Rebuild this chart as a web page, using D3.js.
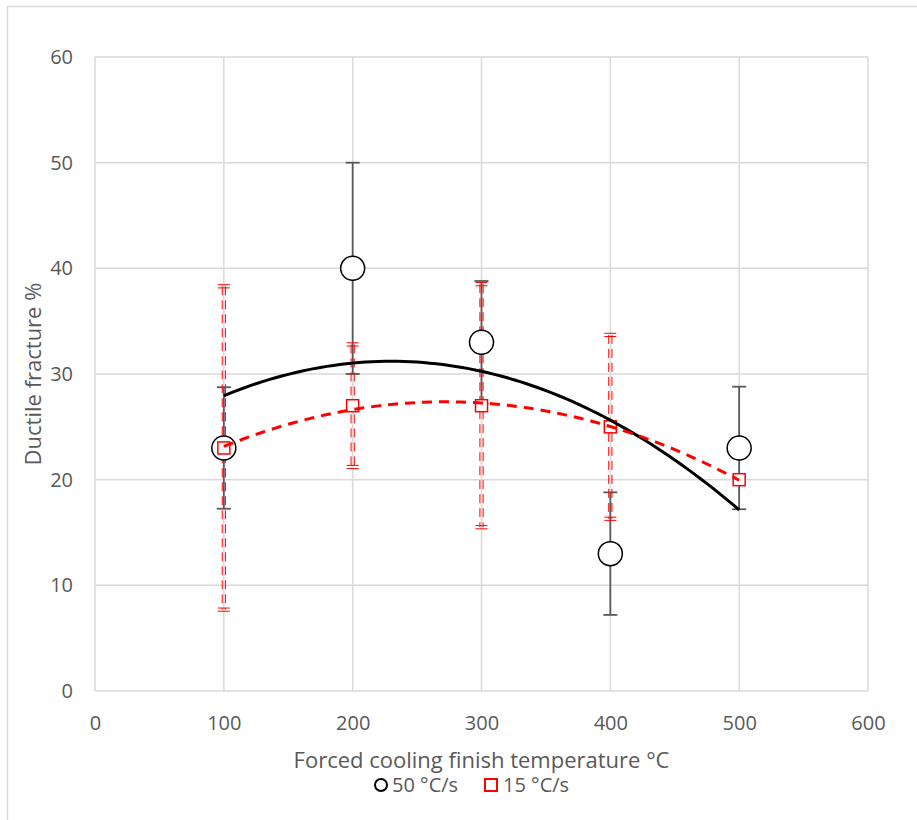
<!DOCTYPE html>
<html>
<head>
<meta charset="utf-8">
<script src="https://cdn.jsdelivr.net/npm/d3@7"></script>
<style>
  body { margin: 0; background: #fff; }
  svg { display: block; font-family: "Open Sans", sans-serif; }
</style>
</head>
<body>
<div id="chart"></div>
<script>
// data
const temps = [100, 200, 300, 400, 500];
const fast = [23, 40, 33, 13, 23];          // 50 °C/s
const fastErr = [5.75, 10, 5.8, 5.8, 5.8];
const slow = [23, 27, 27, 25, 20];          // 15 °C/s
const slowErr = [15.3, 5.8, 11.5, 8.7, 0];
const xTicks = [0, 100, 200, 300, 400, 500, 600];
const yTicks = [0, 10, 20, 30, 40, 50, 60];

const width = 917, height = 820;
const margin = {top: 57, bottom: 129, left: 95, right: 49};
const innerWidth = width - margin.left - margin.right;
const innerHeight = height - margin.top - margin.bottom;

const svg = d3.select("#chart").append("svg")
    .attr("width", width).attr("height", height);

// outer chart border (left + top)
svg.append("path")
    .attr("d", `M7.5,${height} V6.5 H${width}`)
    .attr("fill", "none").attr("stroke", "#d9d9d9").attr("stroke-width", 1.5);

const g = svg.append("g").attr("transform", `translate(${margin.left},${margin.top})`);

const xScale = d3.scaleLinear().domain([0, 600]).range([0, innerWidth]);
const yScale = d3.scaleLinear().domain([0, 60]).range([innerHeight, 0]);

// gridlines
g.append("g").selectAll("line").data(yTicks).join("line")
    .attr("x1", 0).attr("x2", innerWidth)
    .attr("y1", d => yScale(d)).attr("y2", d => yScale(d))
    .attr("stroke", "#d9d9d9").attr("stroke-width", 1.5);
g.append("g").selectAll("line").data(xTicks).join("line")
    .attr("x1", d => xScale(d)).attr("x2", d => xScale(d))
    .attr("y1", 0).attr("y2", innerHeight)
    .attr("stroke", "#d9d9d9").attr("stroke-width", 1.5);

// axes (labels only)
const xAxis = g.append("g")
    .attr("transform", `translate(0,${innerHeight})`)
    .call(d3.axisBottom(xScale).tickValues(xTicks).tickSize(0).tickPadding(25));
const yAxis = g.append("g")
    .call(d3.axisLeft(yScale).tickValues(yTicks).tickSize(0).tickPadding(22));
[xAxis, yAxis].forEach(a => {
    a.select(".domain").remove();
    a.attr("font-size", 20).attr("font-family", "Open Sans, sans-serif");
    a.selectAll("text").attr("fill", "#595959");
});

// error bars - 50 °C/s (solid grey)
const capW = 7;
temps.forEach((t, i) => {
    const x = xScale(t), y1 = yScale(fast[i] - fastErr[i]), y2 = yScale(fast[i] + fastErr[i]);
    g.append("line").attr("x1", x).attr("x2", x).attr("y1", y1).attr("y2", y2)
        .attr("stroke", "#595959").attr("stroke-width", 1.8);
    [y1, y2].forEach(yy => g.append("line")
        .attr("x1", x - capW).attr("x2", x + capW).attr("y1", yy).attr("y2", yy)
        .attr("stroke", "#595959").attr("stroke-width", 1.8));
});

// error bars - 15 °C/s (double dashed red)
temps.forEach((t, i) => {
    if (slowErr[i] === 0) return;
    const x = xScale(t), y1 = yScale(slow[i] - slowErr[i]), y2 = yScale(slow[i] + slowErr[i]);
    [-1.6, 1.6].forEach(off => {
        g.append("line").attr("x1", x + off).attr("x2", x + off).attr("y1", y2).attr("y2", y1)
            .attr("stroke", "#ff0000").attr("stroke-width", 1)
            .attr("stroke-dasharray", "9,5");
    });
    [y1, y2].forEach(yy => [-1.6, 1.6].forEach(off => g.append("line")
        .attr("x1", x - 6).attr("x2", x + 6).attr("y1", yy + off).attr("y2", yy + off)
        .attr("stroke", "#ff0000").attr("stroke-width", 1)));
});

// markers
g.append("g").selectAll("circle").data(temps).join("circle")
    .attr("cx", d => xScale(d)).attr("cy", (d, i) => yScale(fast[i]))
    .attr("r", 12).attr("fill", "#fff").attr("stroke", "#000").attr("stroke-width", 1.5);
g.append("g").selectAll("rect").data(temps).join("rect")
    .attr("x", d => xScale(d) - 6).attr("y", (d, i) => yScale(slow[i]) - 6)
    .attr("width", 12).attr("height", 12)
    .attr("fill", "#fff").attr("stroke", "#ff0000").attr("stroke-width", 1.5);

// polynomial (order 2) trendlines, least squares on the series
function polyFit(xs, ys) {
    let s = [0, 0, 0, 0, 0], t = [0, 0, 0];
    xs.forEach((x, i) => {
        for (let k = 0; k < 5; k++) s[k] += Math.pow(x, k);
        for (let k = 0; k < 3; k++) t[k] += ys[i] * Math.pow(x, k);
    });
    const A = [[s[0], s[1], s[2]], [s[1], s[2], s[3]], [s[2], s[3], s[4]]];
    const b = t.slice();
    for (let c = 0; c < 3; c++) {
        for (let r = c + 1; r < 3; r++) {
            const f = A[r][c] / A[c][c];
            for (let k = c; k < 3; k++) A[r][k] -= f * A[c][k];
            b[r] -= f * b[c];
        }
    }
    const coef = [0, 0, 0];
    for (let r = 2; r >= 0; r--) {
        let v = b[r];
        for (let k = r + 1; k < 3; k++) v -= A[r][k] * coef[k];
        coef[r] = v / A[r][r];
    }
    return x => coef[0] + coef[1] * x + coef[2] * x * x;
}
const fitFast = polyFit(temps, fast);
const fitSlow = polyFit(temps, slow);
const xs = d3.range(100, 501, 5);
const line = f => d3.line().x(d => xScale(d)).y(d => yScale(f(d)));

g.append("path").attr("d", line(fitFast)(xs))
    .attr("fill", "none").attr("stroke", "#000").attr("stroke-width", 3);
g.append("path").attr("d", line(fitSlow)(xs))
    .attr("fill", "none").attr("stroke", "#ff0000").attr("stroke-width", 3)
    .attr("stroke-dasharray", "10,7");

// axis titles
svg.append("text")
    .attr("x", margin.left + xScale(300) + 0).attr("y", 768)
    .attr("text-anchor", "middle").attr("font-size", 22).attr("fill", "#595959")
    .text("Forced cooling finish temperature °C");
svg.append("text")
    .attr("transform", `translate(41,374) rotate(-90)`)
    .attr("text-anchor", "middle").attr("font-size", 22).attr("fill", "#595959")
    .text("Ductile fracture %");

// legend
const legend = svg.append("g").attr("transform", "translate(0,785)");
legend.append("circle").attr("cx", 381).attr("cy", 0).attr("r", 6)
    .attr("fill", "#fff").attr("stroke", "#000").attr("stroke-width", 2);
legend.append("text").attr("x", 392).attr("y", 7).attr("font-size", 20).attr("fill", "#595959")
    .text("50 °C/s");
legend.append("rect").attr("x", 485).attr("y", -6).attr("width", 12).attr("height", 12)
    .attr("fill", "#fff").attr("stroke", "#ff0000").attr("stroke-width", 2);
legend.append("text").attr("x", 503).attr("y", 7).attr("font-size", 20).attr("fill", "#595959")
    .text("15 °C/s");
</script>
</body>
</html>
